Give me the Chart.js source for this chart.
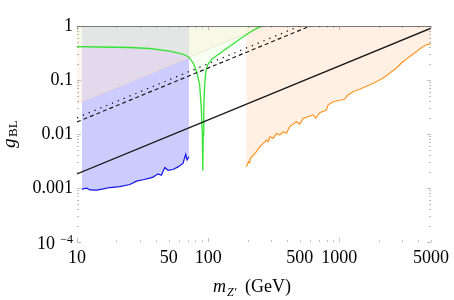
<!DOCTYPE html>
<html><head><meta charset="utf-8">
<script src="https://cdn.jsdelivr.net/npm/chart.js@4.4.1/dist/chart.umd.min.js"></script>
<style>html,body{margin:0;padding:0;background:#fff}</style>
</head><body>
<canvas id="c" width="454" height="300" style="width:454px;height:300px;display:block"></canvas>
<script>
// ---- data (m_Z' in GeV, g_BL) ----
const blueMass = [10.9, 11.85, 12.56, 14.12, 15.85, 17.8, 21.2, 25.3, 28.4, 31.9, 35.9, 38.0, 41.5, 44.0, 46.7, 49.5, 54.0, 58.9, 64.3, 67.4, 69.0, 71.5];
const blueCoupling = [0.00095, 0.00099, 0.00092, 0.00091, 0.00096, 0.00102, 0.00106, 0.00116, 0.00134, 0.00142, 0.00152, 0.00159, 0.00183, 0.00172, 0.0024, 0.00213, 0.0022, 0.00246, 0.00285, 0.0042, 0.0033, 0.0038];

const greenMass = [10, 15, 25.3, 35.9, 50.9, 63.9, 71.1, 77.6, 81.8, 86.1, 88.8, 90.2, 91.0, 91.7, 92.6, 94.0, 96.0, 99.0, 106, 118, 140, 174, 207, 240, 262];
const greenCoupling = [0.414, 0.408, 0.40, 0.383, 0.344, 0.303, 0.267, 0.198, 0.141, 0.081, 0.028, 0.0096, 0.0021, 0.0096, 0.028, 0.081, 0.141, 0.19, 0.24, 0.29, 0.39, 0.57, 0.76, 0.93, 1.0];

const orangeMass = [195, 203, 207, 210, 222, 233, 248, 279, 287, 295, 313, 332, 352, 373, 395, 419, 471, 499, 530, 578, 631, 661, 708, 796, 820, 896, 1035, 1097, 1164, 1271, 1426, 1699, 1910, 2148, 2413, 2713, 3050, 3428, 3853, 4333, 4730, 5000];
const orangeCoupling = [0.00248, 0.00307, 0.00294, 0.00355, 0.00408, 0.0047, 0.00582, 0.00774, 0.0072, 0.0089, 0.0083, 0.0103, 0.0096, 0.011, 0.0103, 0.0137, 0.0169, 0.0153, 0.0195, 0.0209, 0.0225, 0.0195, 0.0248, 0.0278, 0.0344, 0.0396, 0.0426, 0.044, 0.0527, 0.0607, 0.0673, 0.0807, 0.093, 0.1075, 0.133, 0.165, 0.218, 0.27, 0.334, 0.414, 0.458, 0.464];

const beigeMass = [10, 270];
const beigeCoupling = [0.037, 1];

const solidMass = [10, 5000];
const solidCoupling = [0.00182, 0.91];
const dashedMass = [10, 600];
const dashedCoupling = [0.0167, 1];
const dottedMass = [10, 500];
const dottedCoupling = [0.02, 1];

const xTickValues = [10,20,30,40,50,60,70,80,90,100,200,300,400,500,600,700,800,900,1000,2000,3000,4000,5000];
const xTickLabels = ['10','','','','50','','','','','100','','','','500','','','','','1000','','','','5000'];
const xMajorTicks = [10,100,1000];
const yTickValues = [1e-4,2e-4,3e-4,4e-4,5e-4,6e-4,7e-4,8e-4,9e-4,1e-3,2e-3,3e-3,4e-3,5e-3,6e-3,7e-3,8e-3,9e-3,0.01,0.02,0.03,0.04,0.05,0.06,0.07,0.08,0.09,0.1,0.2,0.3,0.4,0.5,0.6,0.7,0.8,0.9,1];
const yMajorTicks = [1e-4,1e-3,0.01,0.1,1];
const yTickLabels = {'0.001':'0.001','0.01':'0.01','0.1':'0.1','1':'1'};

const pts = (xs, ys) => xs.map((v, i) => ({x: v, y: ys[i]}));
const SERIF = "'Liberation Serif', 'Times New Roman', serif";

const decor = {
  id: 'decor',
  afterDatasetsDraw(chart) {
    const {ctx, chartArea: a, scales: {x, y}} = chart;
    ctx.save();
    ctx.strokeStyle = 'rgba(100,100,100,0.85)';
    ctx.lineWidth = 1;
    ctx.beginPath(); ctx.moveTo(a.left, a.top + 0.5); ctx.lineTo(a.right, a.top + 0.5); ctx.stroke();
    ctx.strokeStyle = 'rgba(110,110,110,0.45)';
    ctx.beginPath();
    xTickValues.forEach(v => {
      const px = Math.round(x.getPixelForValue(v)) + 0.5;
      const len = xMajorTicks.includes(v) ? 4 : 2;
      ctx.moveTo(px, a.bottom); ctx.lineTo(px, a.bottom - len);
      ctx.moveTo(px, a.top); ctx.lineTo(px, a.top + len);
    });
    yTickValues.forEach(v => {
      const py = Math.round(y.getPixelForValue(v)) + 0.5;
      const len = yMajorTicks.some(t => Math.abs(t - v) < t * 1e-6) ? 4 : 2;
      ctx.moveTo(a.left, py); ctx.lineTo(a.left + len, py);
      ctx.moveTo(a.right, py); ctx.lineTo(a.right - len, py);
    });
    ctx.stroke();

    ctx.fillStyle = '#000';
    // 10^-4 label
    const py4 = y.getPixelForValue(1e-4);
    ctx.textAlign = 'right'; ctx.textBaseline = 'alphabetic';
    ctx.font = '12px ' + SERIF;
    ctx.fillText('\u22124', a.left - 4, py4 + 1);
    ctx.font = '18px ' + SERIF;
    ctx.fillText('10', a.left - 22, py4 + 7);

    // x title
    ctx.textAlign = 'left';
    ctx.font = 'italic 18px ' + SERIF;
    ctx.fillText('m', 213, 292);
    ctx.font = 'italic 12px ' + SERIF;
    ctx.fillText('Z\u2032', 227, 296);
    ctx.font = '18px ' + SERIF;
    ctx.fillText('(GeV)', 245, 292);

    // y title
    ctx.translate(15, 148);
    ctx.rotate(-Math.PI / 2);
    ctx.font = 'italic 19px ' + SERIF;
    ctx.fillText('g', 0, 0);
    ctx.font = '13px ' + SERIF;
    ctx.fillText('BL', 11, 2);
    ctx.restore();
  }
};

new Chart(document.getElementById('c'), {
  type: 'line',
  data: {
    datasets: [
      {data: pts(solidMass, solidCoupling), borderColor: 'rgb(25,25,25)', borderWidth: 1.3, fill: false, order: 0},
      {data: pts(dashedMass, dashedCoupling), borderColor: 'rgb(25,25,25)', borderWidth: 1.2, borderDash: [4, 3], fill: false, order: 0},
      {data: pts(dottedMass, dottedCoupling), borderColor: 'rgb(25,25,25)', borderWidth: 1.3, borderDash: [1.3, 5], fill: false, order: 0},
      {data: pts(greenMass, greenCoupling), borderColor: 'rgb(50,228,50)', borderWidth: 1.3, fill: 'end', backgroundColor: 'rgba(228,255,212,0.3)', order: 1},
      {data: pts(beigeMass, beigeCoupling), borderColor: 'rgba(245,218,200,0.9)', borderWidth: 1, fill: 'end', backgroundColor: 'rgba(255,232,212,0.45)', order: 2},
      {data: pts(blueMass, blueCoupling), borderColor: 'rgb(20,20,230)', borderWidth: 1.2, fill: 'end', backgroundColor: 'rgba(0,0,255,0.2)', order: 3},
      {data: pts(orangeMass, orangeCoupling), borderColor: 'rgb(255,150,40)', borderWidth: 1.2, fill: 'end', backgroundColor: 'rgba(255,140,40,0.13)', order: 3}
    ]
  },
  options: {
    responsive: false, animation: false, devicePixelRatio: 1,
    layout: {padding: {top: 26, right: 22, left: 0, bottom: 0}},
    plugins: {legend: {display: false}, tooltip: {enabled: false}},
    elements: {point: {radius: 0}, line: {tension: 0}},
    scales: {
      x: {
        type: 'logarithmic', min: 10, max: 5000,
        grid: {display: false, drawTicks: false}, border: {display: false},
        afterBuildTicks: s => { s.ticks = xTickValues.map(v => ({value: v})); },
        afterFit: s => { s.height = 58; },
        ticks: {autoSkip: false, maxRotation: 0, minRotation: 0, padding: 5, color: '#000',
          font: {family: SERIF, size: 18},
          callback: (v, i) => xTickLabels[i]}
      },
      y: {
        type: 'logarithmic', min: 1e-4, max: 1,
        grid: {display: false, drawTicks: false}, border: {display: false},
        afterBuildTicks: s => { s.ticks = yMajorTicks.map(v => ({value: v})); },
        afterFit: s => { s.width = 77; },
        ticks: {autoSkip: false, padding: 4, color: '#000',
          font: {family: SERIF, size: 18},
          callback: (v) => yTickLabels[String(v)] || ''}
      }
    }
  },
  plugins: [decor]
});
</script>
</body></html>
